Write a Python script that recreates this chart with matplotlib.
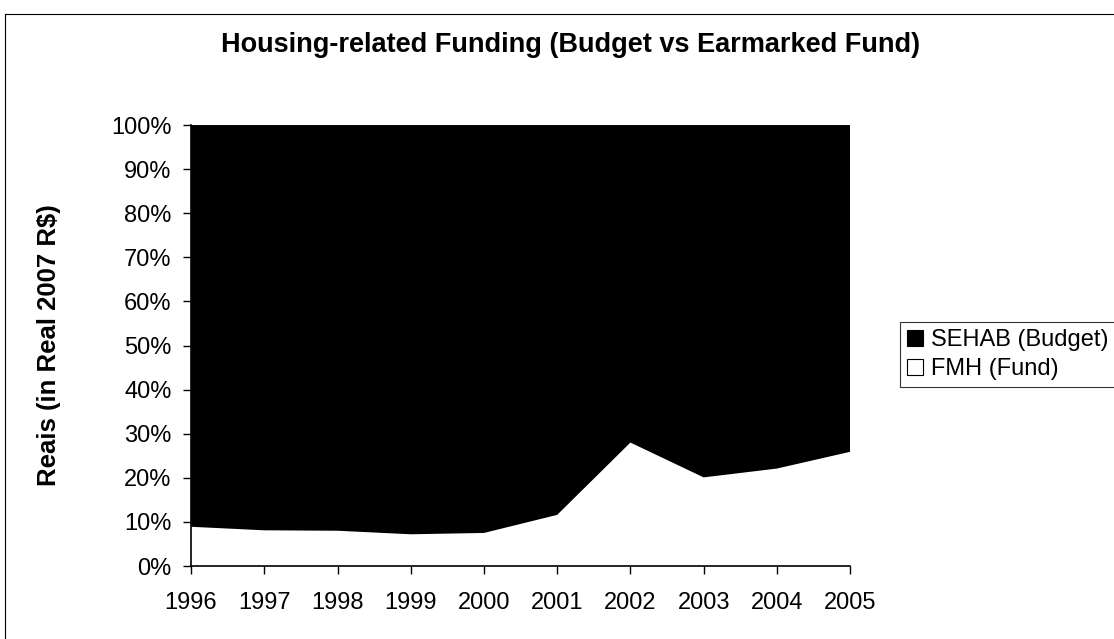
import matplotlib.pyplot as plt
from matplotlib.lines import Line2D

plt.rcParams['font.family'] = ['Liberation Sans', 'DejaVu Sans']

years = [1996, 1997, 1998, 1999, 2000, 2001, 2002, 2003, 2004, 2005]
# share of housing funding coming from the earmarked fund, in %
fmh_share = [8.9, 8.1, 8.0, 7.2, 7.5, 11.6, 28.0, 20.1, 22.1, 25.9]
sehab_share = [100 - v for v in fmh_share]

fig = plt.figure(figsize=(11.14, 6.39), dpi=100)
ax = fig.add_axes([0.1715, 0.1142, 0.5916, 0.6901])

ax.stackplot(years, fmh_share, sehab_share,
             colors=['white', 'black'], edgecolor='none',
             labels=['FMH (Fund)', 'SEHAB (Budget)'])

ax.set_xlim(1996, 2005)
ax.set_ylim(0, 100)
ax.set_xticks(years)
ax.set_yticks(range(0, 101, 10))
ax.set_yticklabels(['%d%%' % v for v in range(0, 101, 10)])
ax.tick_params(labelsize=17, direction='out', length=6, width=1)
ax.tick_params(axis='y', pad=8)
ax.tick_params(axis='x', pad=13)

for side in ['top', 'right']:
    ax.spines[side].set_visible(False)
ax.spines['left'].set_linewidth(1.2)
ax.spines['bottom'].set_linewidth(1.2)

fig.text(0.512, 0.929, 'Housing-related Funding (Budget vs Earmarked Fund)',
         fontsize=19.5, fontweight='bold', ha='center', va='center')
ax.set_ylabel('Reais (in Real 2007 R$)', fontsize=18.5, fontweight='bold')
ax.yaxis.set_label_coords(-0.197, 0.5)

# legend: budget first, then the fund
h, l = ax.get_legend_handles_labels()
leg = fig.legend(h[::-1], l[::-1], loc='lower left',
                 bbox_to_anchor=(0.808, 0.394), fontsize=17,
                 frameon=True, fancybox=False, handlelength=0.65,
                 handleheight=0.65, handletextpad=0.35, borderpad=0.3,
                 labelspacing=0.3, borderaxespad=0)
leg.get_frame().set_edgecolor('black')
leg.get_frame().set_linewidth(0.8)
for p in leg.get_patches():
    p.set_edgecolor('black')
    p.set_linewidth(0.8)

# outer chart border (top and left edges)
fig.add_artist(Line2D([0.0045, 1.0], [0.978, 0.978],
                      transform=fig.transFigure, color='black', lw=0.8))
fig.add_artist(Line2D([0.0045, 0.0045], [0.0, 0.978],
                      transform=fig.transFigure, color='black', lw=0.8))

fig.savefig('out.png', dpi=100)
